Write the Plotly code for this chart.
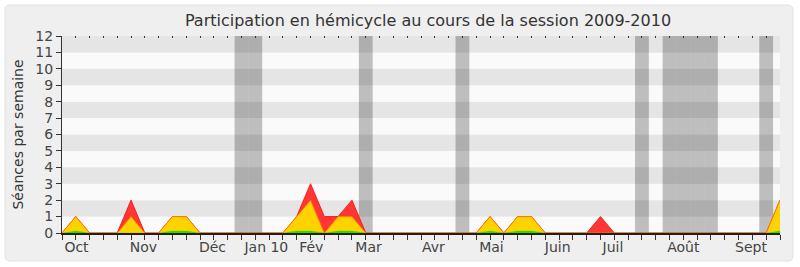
import plotly.graph_objects as go

# ---------------- data ----------------
weeks = list(range(53))
presence_red = [0, 1, 0, 0, 0, 2, 0, 0, 1, 1, 0, 0, 0, 0, 0, 0,
                0, 1, 3, 1, 1, 2, 0, 0, 0, 0, 0, 0, 0, 0,
                0, 1, 0, 1, 1, 0, 0, 0, 0, 1, 0, 0, 0, 0, 0, 0, 0, 0, 0, 0, 0, 0, 2]
interv_yellow = [0, 1, 0, 0, 0, 1, 0, 0, 1, 1, 0, 0, 0, 0, 0, 0,
                 0, 1, 2, 0, 1, 1, 0, 0, 0, 0, 0, 0, 0, 0,
                 0, 1, 0, 1, 1, 0, 0, 0, 0, 0, 0, 0, 0, 0, 0, 0, 0, 0, 0, 0, 0, 0, 2]
quest_green = [0, 0.12, 0, 0, 0, 0, 0, 0, 0.12, 0.12, 0, 0, 0, 0, 0, 0,
               0, 0.12, 0.12, 0, 0.12, 0.12, 0, 0, 0, 0, 0, 0, 0, 0,
               0, 0.12, 0, 0.12, 0.12, 0, 0, 0, 0, 0, 0, 0, 0, 0, 0, 0, 0, 0, 0, 0, 0, 0, 0.12]
vacation_weeks = [13, 14, 22, 29, 42, 44, 45, 46, 47, 51]
month_pos = [1.05, 5.9, 10.9, 14.8, 18.05, 22.2, 26.9, 31.1, 35.9, 39.9, 45.0, 49.9]
month_labels = ["Oct", "Nov", "Déc", "Jan 10", "Fév", "Mar", "Avr", "Mai", "Juin", "Juil", "Août", "Sept"]
y_ticks = list(range(13))

FONT = "DejaVu Sans"

fig = go.Figure()
fig.add_trace(go.Scatter(x=weeks, y=presence_red, mode="lines", fill="tozeroy",
                         fillcolor="#ff3636", line=dict(color="#ff1a1a", width=1),
                         hoverinfo="skip", showlegend=False))
fig.add_trace(go.Scatter(x=weeks, y=interv_yellow, mode="lines", fill="tozeroy",
                         fillcolor="#ffd200", line=dict(color="rgba(255,120,0,0.8)", width=1),
                         hoverinfo="skip", showlegend=False))
fig.add_trace(go.Scatter(x=weeks, y=quest_green, mode="lines", fill="tozeroy",
                         fillcolor="#22e000", line=dict(color="rgba(34,224,0,0.6)", width=0.5),
                         hoverinfo="skip", showlegend=False))
# dummy trace for the top dotted axis
fig.add_trace(go.Scatter(x=[0, 52], y=[0, 0], xaxis="x2", mode="lines",
                         line=dict(width=0), hoverinfo="skip", showlegend=False))

shapes = []
# outer rounded frame (paper coordinates relative to plot area)
L, R, T, B = 62, 780, 36, 233
def px(x):
    return (x - L) / (R - L)
def py(y):
    return (B - y) / (B - T)
x0, x1, y0, y1, r = 5, 793, 5, 261, 5
path = (f"M {px(x0+r)},{py(y0)} L {px(x1-r)},{py(y0)} Q {px(x1)},{py(y0)} {px(x1)},{py(y0+r)} "
        f"L {px(x1)},{py(y1-r)} Q {px(x1)},{py(y1)} {px(x1-r)},{py(y1)} "
        f"L {px(x0+r)},{py(y1)} Q {px(x0)},{py(y1)} {px(x0)},{py(y1-r)} "
        f"L {px(x0)},{py(y0+r)} Q {px(x0)},{py(y0)} {px(x0+r)},{py(y0)} Z")
shapes.append(dict(type="path", path=path, xref="paper", yref="paper", layer="below",
                   fillcolor="#efefef", line=dict(color="#e2e2e2", width=1)))
# alternating horizontal bands
for k in range(12):
    shapes.append(dict(type="rect", xref="x", yref="y", x0=0, x1=52, y0=k, y1=k + 1,
                       fillcolor="#e5e5e5" if k % 2 else "#fafafa",
                       line=dict(width=0), layer="below"))
# vacation weeks
for w in vacation_weeks:
    shapes.append(dict(type="rect", xref="x", yref="y", x0=w - 0.5, x1=w + 0.5, y0=0, y1=12,
                       fillcolor="rgba(0,0,0,0.24)", line=dict(width=0), layer="below"))

fig.update_layout(
    width=800, height=267,
    margin=dict(l=L, r=800 - R, t=T, b=267 - B),
    paper_bgcolor="white",
    plot_bgcolor="#fafafa",
    font=dict(family=FONT, size=14, color="#333333"),
    title=dict(text="Participation en hémicycle au cours de la session 2009-2010",
               x=0.535, xanchor="center", y=0.925, yanchor="middle",
               font=dict(family=FONT, size=16, color="#333333")),
    shapes=shapes,
    xaxis=dict(range=[0, 52], tickmode="array", tickvals=month_pos, ticktext=month_labels,
               ticks="", ticklen=0, showgrid=False, zeroline=False,
               showline=True, linecolor="#2a1a1a", linewidth=1.5, layer="above traces",
               tickfont=dict(family=FONT, size=14, color="#444444"),
               minor=dict(tickmode="linear", tick0=0, dtick=1, ticks="outside",
                          ticklen=5, tickcolor="#333333", tickwidth=1, showgrid=False),
               fixedrange=True),
    xaxis2=dict(range=[0, 52], overlaying="x", side="top", tickmode="linear", tick0=0, dtick=1,
                ticks="inside", ticklen=2, tickcolor="#333333", showticklabels=False,
                showgrid=False, zeroline=False, showline=False),
    yaxis=dict(range=[0, 12], tickmode="array", tickvals=y_ticks, ticks="outside", ticklen=5,
               tickcolor="#333333", showgrid=False, zeroline=False, showline=True,
               linecolor="#333333", linewidth=1,
               tickfont=dict(family=FONT, size=14, color="#444444"),
               title=dict(text="Séances par semaine", standoff=8,
                          font=dict(family=FONT, size=14, color="#333333"))),
)

fig.write_html("out.html")
